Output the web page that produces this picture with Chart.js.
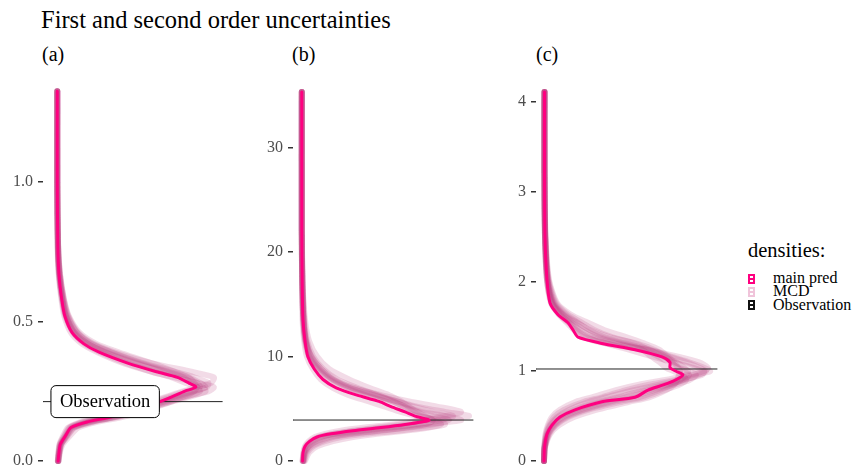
<!DOCTYPE html>
<html>
<head>
<meta charset="utf-8">
<script src="https://cdn.jsdelivr.net/npm/chart.js@4.4.1/dist/chart.umd.min.js"></script>
<style>
  html, body { margin: 0; padding: 0; background: #fff; }
  #wrap { position: relative; width: 852px; height: 471px; overflow: hidden; font-family: "Liberation Serif", "Times New Roman", Times, "DejaVu Serif", serif; color: #000; }
  .txt { position: absolute; line-height: 1; white-space: nowrap; }
  canvas { position: absolute; top: 0; }
  .key { position: absolute; left: 748px; width: 3px; height: 6px; border: 2px solid; background: #fff; }
  .key:after { content: ""; position: absolute; left: 0; right: 0; top: 2px; height: 2px; background: currentColor; }
</style>
</head>
<body>
<div id="wrap">
  <div class="txt" style="left:41px;top:8px;font-size:24.5px;">First and second order uncertainties</div>
  <div class="txt" style="left:42px;top:44px;font-size:20px;">(a)</div>
  <div class="txt" style="left:292px;top:44px;font-size:20px;">(b)</div>
  <div class="txt" style="left:536px;top:44px;font-size:20px;">(c)</div>

  <canvas id="panelA" width="231" height="471" style="left:0px"></canvas>
  <canvas id="panelB" width="231" height="471" style="left:250px"></canvas>
  <canvas id="panelC" width="232" height="471" style="left:493px"></canvas>

  <div class="txt" style="left:748px;top:240px;font-size:20.5px;">densities:</div>
  <div class="key" style="top:274px;border-color:#ff0080;color:#ff0080;"></div>
  <div class="txt" style="left:773px;top:270px;font-size:16px;">main pred</div>
  <div class="key" style="top:287px;border-color:#f0c4da;color:#f0c4da;"></div>
  <div class="txt" style="left:773px;top:283px;font-size:16px;">MCD</div>
  <div class="key" style="top:300px;border-color:#111;color:#111;"></div>
  <div class="txt" style="left:773px;top:297px;font-size:16px;">Observation</div>
</div>

<script>
// panel (a): values along the vertical axis, densities along the horizontal
var aValues = [0, 0.03, 0.06, 0.09, 0.12, 0.14, 0.155, 0.17, 0.19, 0.21, 0.23, 0.25, 0.265, 0.28, 0.3, 0.32, 0.35, 0.39, 0.42, 0.46, 0.52, 0.58, 0.67, 0.77, 1.0, 1.326];
var aMain = [0.04, 0.07, 0.12, 0.3, 0.5, 1.07, 1.8, 2.4, 3.0, 3.6, 4.1, 4.55, 4.96, 4.7, 4.3, 3.55, 2.55, 1.5, 0.96, 0.54, 0.28, 0.17, 0.07, 0.03, 0.01, 0.01];
var aMcd1 = [0.05, 0.09, 0.16, 0.38, 0.62, 1.25, 2.0, 2.65, 3.3, 4.0, 4.7, 5.3, 5.2, 4.8, 4.5, 3.8, 2.8, 1.7, 1.1, 0.62, 0.32, 0.19, 0.08, 0.03, 0.01, 0.01];
var aMcd2 = [0.03, 0.06, 0.1, 0.26, 0.45, 0.95, 1.6, 2.2, 2.8, 3.4, 4.0, 4.6, 5.1, 5.0, 4.6, 3.9, 2.9, 1.75, 1.1, 0.63, 0.33, 0.2, 0.08, 0.03, 0.01, 0.01];
var aMcd3 = [0.04, 0.08, 0.14, 0.33, 0.55, 1.15, 1.9, 2.5, 3.1, 3.8, 4.5, 5.4, 5.6, 5.0, 4.2, 3.4, 2.4, 1.45, 0.9, 0.5, 0.26, 0.16, 0.06, 0.02, 0.01, 0.01];
var aMcd4 = [0.04, 0.07, 0.13, 0.32, 0.52, 1.1, 1.85, 2.45, 3.05, 3.7, 4.3, 4.9, 5.3, 5.1, 4.7, 4.0, 3.0, 1.9, 1.2, 0.7, 0.36, 0.22, 0.09, 0.04, 0.01, 0.01];
var aMcd5 = [0.05, 0.08, 0.15, 0.35, 0.6, 1.2, 1.95, 2.6, 3.25, 3.9, 4.6, 5.1, 5.0, 4.6, 4.1, 3.4, 2.5, 1.55, 1.0, 0.58, 0.3, 0.18, 0.07, 0.03, 0.01, 0.01];
var aMcd6 = [0.03, 0.06, 0.11, 0.28, 0.48, 1.0, 1.7, 2.3, 2.95, 3.55, 4.15, 4.8, 5.35, 5.4, 4.9, 4.2, 3.1, 1.95, 1.25, 0.72, 0.38, 0.23, 0.1, 0.04, 0.01, 0.01];
var aMcd7 = [0.06, 0.1, 0.2, 0.45, 0.75, 1.4, 2.2, 2.8, 3.4, 4.0, 4.5, 4.9, 5.0, 4.9, 4.7, 4.2, 3.4, 2.2, 1.4, 0.8, 0.42, 0.25, 0.11, 0.04, 0.01, 0.01];
var aMcd8 = [0.03, 0.05, 0.09, 0.22, 0.4, 0.85, 1.45, 2.05, 2.7, 3.3, 3.9, 4.5, 5.0, 5.5, 5.6, 4.8, 3.4, 2.05, 1.3, 0.75, 0.4, 0.24, 0.1, 0.04, 0.01, 0.01];
var aObs = 0.213;
var aObsX = [-0.5, 5.9];
var aTicks = [0, 0.5, 1.0];
var aTickLabels = ["0.0", "0.5", "1.0"];

// panel (b)
var bValues = [0, 0.8, 1.4, 1.9, 2.3, 2.6, 2.9, 3.2, 3.5, 3.9, 4.3, 4.7, 5.2, 5.7, 6.3, 7.0, 7.8, 8.8, 10, 11.5, 13.5, 17, 22, 35.3];
var bMain = [0.004, 0.005, 0.01, 0.022, 0.04, 0.075, 0.13, 0.2, 0.26, 0.32, 0.285, 0.26, 0.225, 0.195, 0.14, 0.088, 0.055, 0.033, 0.017, 0.01, 0.005, 0.003, 0.002, 0.002];
var bMcd1 = [0.006, 0.01, 0.02, 0.04, 0.07, 0.12, 0.19, 0.27, 0.33, 0.37, 0.33, 0.29, 0.25, 0.21, 0.16, 0.11, 0.07, 0.04, 0.02, 0.01, 0.006, 0.003, 0.002, 0.002];
var bMcd2 = [0.005, 0.008, 0.015, 0.03, 0.05, 0.085, 0.14, 0.21, 0.28, 0.35, 0.38, 0.33, 0.28, 0.24, 0.19, 0.13, 0.085, 0.05, 0.026, 0.013, 0.007, 0.004, 0.002, 0.002];
var bMcd3 = [0.008, 0.015, 0.03, 0.06, 0.1, 0.16, 0.24, 0.31, 0.36, 0.34, 0.29, 0.25, 0.21, 0.17, 0.12, 0.08, 0.05, 0.03, 0.015, 0.008, 0.004, 0.003, 0.002, 0.002];
var bMcd4 = [0.005, 0.009, 0.018, 0.035, 0.06, 0.1, 0.16, 0.23, 0.3, 0.4, 0.36, 0.3, 0.26, 0.23, 0.18, 0.12, 0.08, 0.045, 0.024, 0.012, 0.006, 0.003, 0.002, 0.002];
var bMcd5 = [0.007, 0.012, 0.025, 0.05, 0.08, 0.13, 0.2, 0.26, 0.31, 0.33, 0.3, 0.28, 0.26, 0.23, 0.19, 0.14, 0.09, 0.055, 0.03, 0.015, 0.008, 0.004, 0.002, 0.002];
var bMcd6 = [0.004, 0.007, 0.012, 0.025, 0.045, 0.08, 0.13, 0.19, 0.25, 0.31, 0.42, 0.36, 0.29, 0.24, 0.18, 0.12, 0.075, 0.045, 0.022, 0.011, 0.006, 0.003, 0.002, 0.002];
var bMcd7 = [0.01, 0.02, 0.04, 0.08, 0.13, 0.19, 0.26, 0.32, 0.35, 0.33, 0.31, 0.29, 0.27, 0.25, 0.22, 0.17, 0.12, 0.07, 0.04, 0.02, 0.01, 0.004, 0.002, 0.002];
var bMcd8 = [0.004, 0.006, 0.01, 0.02, 0.035, 0.06, 0.1, 0.16, 0.23, 0.3, 0.36, 0.4, 0.34, 0.27, 0.2, 0.13, 0.08, 0.05, 0.025, 0.012, 0.006, 0.003, 0.002, 0.002];
var bObs = 3.92;
var bObsX = [-0.02, 0.43];
var bTicks = [0, 10, 20, 30];
var bTickLabels = ["0", "10", "20", "30"];

// panel (c)
var cValues = [0, 0.15, 0.3, 0.4, 0.49, 0.57, 0.66, 0.71, 0.79, 0.85, 0.9, 0.96, 1.0, 1.04, 1.1, 1.16, 1.24, 1.31, 1.38, 1.46, 1.54, 1.63, 1.76, 2.02, 2.5, 3.2, 4.11];
var cMain = [0, 0.005, 0.03, 0.08, 0.16, 0.31, 0.58, 0.91, 1.04, 1.2, 1.31, 1.39, 1.32, 1.26, 1.26, 1.18, 0.91, 0.58, 0.34, 0.29, 0.24, 0.14, 0.06, 0.03, 0.01, 0.005, 0.005];
var cMcd1 = [0, 0.006, 0.04, 0.1, 0.2, 0.38, 0.65, 0.85, 1.1, 1.3, 1.45, 1.52, 1.45, 1.35, 1.25, 1.15, 1.0, 0.75, 0.5, 0.36, 0.28, 0.18, 0.09, 0.035, 0.012, 0.005, 0.005];
var cMcd2 = [0, 0.004, 0.025, 0.06, 0.13, 0.25, 0.45, 0.62, 0.9, 1.15, 1.35, 1.58, 1.6, 1.48, 1.3, 1.1, 0.85, 0.62, 0.42, 0.32, 0.25, 0.16, 0.08, 0.03, 0.01, 0.005, 0.005];
var cMcd3 = [0, 0.008, 0.05, 0.12, 0.24, 0.44, 0.78, 1.0, 1.2, 1.35, 1.42, 1.38, 1.3, 1.22, 1.16, 1.08, 0.98, 0.82, 0.6, 0.45, 0.34, 0.22, 0.11, 0.04, 0.012, 0.005, 0.005];
var cMcd4 = [0, 0.005, 0.03, 0.07, 0.15, 0.3, 0.55, 0.75, 1.0, 1.22, 1.4, 1.55, 1.62, 1.55, 1.42, 1.25, 1.02, 0.7, 0.45, 0.33, 0.26, 0.17, 0.08, 0.03, 0.01, 0.005, 0.005];
var cMcd5 = [0, 0.007, 0.045, 0.11, 0.22, 0.4, 0.7, 0.95, 1.15, 1.28, 1.36, 1.42, 1.44, 1.4, 1.32, 1.2, 1.05, 0.9, 0.68, 0.5, 0.38, 0.24, 0.12, 0.045, 0.014, 0.005, 0.005];
var cMcd6 = [0, 0.004, 0.02, 0.05, 0.1, 0.2, 0.4, 0.58, 0.82, 1.05, 1.3, 1.5, 1.66, 1.6, 1.45, 1.28, 1.06, 0.8, 0.55, 0.4, 0.3, 0.19, 0.09, 0.035, 0.01, 0.005, 0.005];
var cMcd7 = [0, 0.006, 0.035, 0.09, 0.18, 0.34, 0.6, 0.8, 1.05, 1.25, 1.38, 1.45, 1.4, 1.33, 1.28, 1.22, 1.1, 0.92, 0.65, 0.46, 0.33, 0.2, 0.1, 0.04, 0.012, 0.005, 0.005];
var cMcd8 = [0, 0.01, 0.06, 0.15, 0.3, 0.52, 0.85, 1.05, 1.22, 1.3, 1.33, 1.35, 1.36, 1.34, 1.3, 1.24, 1.15, 1.0, 0.82, 0.6, 0.44, 0.27, 0.13, 0.05, 0.015, 0.005, 0.005];
var cMcd9 = [0, 0.003, 0.015, 0.04, 0.08, 0.16, 0.32, 0.48, 0.72, 0.95, 1.2, 1.45, 1.6, 1.64, 1.55, 1.35, 1.02, 0.62, 0.4, 0.3, 0.23, 0.15, 0.07, 0.03, 0.01, 0.005, 0.005];
var cObs = 1.025;
var cObsX = [-0.08, 1.73];
var cTicks = [0, 1, 2, 3, 4];
var cTickLabels = ["0", "1", "2", "3", "4"];

var obsLabel = "Observation";
var obsLabelX = 1.72;

(function () {
  'use strict';

  var SERIF = '"Liberation Serif", "Times New Roman", Times, "DejaVu Serif", serif';

  function curve(values, dens) {
    return values.map(function (v, i) { return { x: dens[i], y: v }; });
  }

  function mcdSet(values, dens) {
    return { data: curve(values, dens), borderColor: "rgba(180,40,115,0.17)", borderWidth: 6, order: 2 };
  }

  // rounded box with the observation text, placed with the panel's own scales
  var obsLabelPlugin = {
    id: "obsLabel",
    afterDatasetsDraw: function (chart, args, opts) {
      if (!opts.text) return;
      var ctx = chart.ctx;
      var px = chart.scales.x.getPixelForValue(opts.x);
      var py = chart.scales.y.getPixelForValue(opts.y);
      ctx.save();
      ctx.font = "18.5px " + SERIF;
      var w = ctx.measureText(opts.text).width + 18;
      var h = 32;
      var x0 = px - w / 2, y0 = py - h / 2;
      ctx.beginPath();
      ctx.roundRect(x0, y0, w, h, 5);
      ctx.fillStyle = "#fff";
      ctx.fill();
      ctx.strokeStyle = "#000";
      ctx.lineWidth = 1;
      ctx.stroke();
      ctx.fillStyle = "#000";
      ctx.textAlign = "center";
      ctx.textBaseline = "middle";
      ctx.fillText(opts.text, px, py + 1);
      ctx.restore();
    }
  };

  function makePanel(id, p) {
    var canvas = document.getElementById(id);
    var sets = p.mcd.map(function (m) { return mcdSet(p.values, m); });
    sets.push({ data: curve(p.values, p.main), borderColor: "#ff0080", borderWidth: 3, order: 0 });
    sets.push({ data: [{ x: p.obsX[0], y: p.obs }, { x: p.obsX[1], y: p.obs }], borderColor: "#222", borderWidth: 1, tension: 0, order: 1 });

    return new Chart(canvas.getContext("2d"), {
      type: "scatter",
      data: { datasets: sets },
      plugins: [obsLabelPlugin],
      options: {
        responsive: false, animation: false, events: [],
        layout: { padding: { top: 85, bottom: 3, left: 0, right: 0 } },
        elements: {
          point: { radius: 0 },
          line: { tension: 0.25, borderCapStyle: "round", borderJoinStyle: "round" }
        },
        datasets: { scatter: { showLine: true } },
        plugins: {
          legend: { display: false }, tooltip: { enabled: false },
          obsLabel: p.label || {}
        },
        scales: {
          x: { type: "linear", display: false, min: p.xRange[0], max: p.xRange[1] },
          y: {
            type: "linear", min: p.yRange[0], max: p.yRange[1],
            afterFit: function (s) { s.width = 43; s.paddingTop = 0; s.paddingBottom = 0; },
            afterBuildTicks: function (s) { s.ticks = p.ticks.map(function (v) { return { value: v }; }); },
            border: { display: false },
            grid: { drawOnChartArea: false, drawTicks: true, tickLength: 5, color: "#333", lineWidth: 1.5 },
            ticks: {
              padding: 5, color: "#4d4d4d", font: { family: SERIF, size: 16 },
              callback: function (v) { var i = p.ticks.indexOf(v); return i >= 0 ? p.tickLabels[i] : ""; }
            }
          }
        }
      }
    });
  }

  makePanel("panelA", {
    values: aValues, main: aMain, mcd: [aMcd1, aMcd2, aMcd3, aMcd4, aMcd5, aMcd6, aMcd7, aMcd8],
    obs: aObs, obsX: aObsX, ticks: aTicks, tickLabels: aTickLabels,
    xRange: [-0.5, 6.214], yRange: [-0.025, 1.348],
    label: { text: obsLabel, x: obsLabelX, y: aObs }
  });
  makePanel("panelB", {
    values: bValues, main: bMain, mcd: [bMcd1, bMcd2, bMcd3, bMcd4, bMcd5, bMcd6, bMcd7, bMcd8],
    obs: bObs, obsX: bObsX, ticks: bTicks, tickLabels: bTickLabels,
    xRange: [-0.02, 0.45], yRange: [-0.67, 35.98]
  });
  makePanel("panelC", {
    values: cValues, main: cMain, mcd: [cMcd1, cMcd2, cMcd3, cMcd4, cMcd5, cMcd6, cMcd7, cMcd8, cMcd9],
    obs: cObs, obsX: cObsX, ticks: cTicks, tickLabels: cTickLabels,
    xRange: [-0.08, 1.81], yRange: [-0.078, 4.189]
  });
})();
</script>
</body>
</html>
